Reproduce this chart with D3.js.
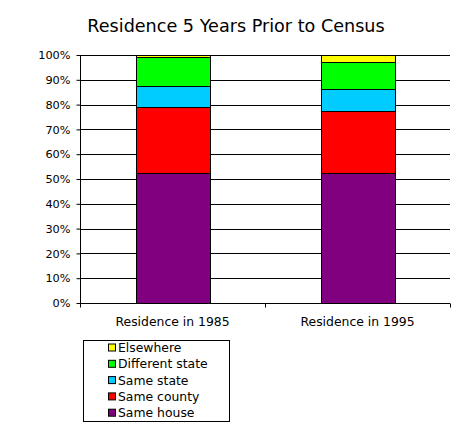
<!DOCTYPE html>
<html>
<head>
<meta charset="utf-8">
<script src="https://cdn.jsdelivr.net/npm/d3@7"></script>
<style>
  body { margin: 0; background: #fff; }
  text { font-family: Verdana, "DejaVu Sans", sans-serif; fill: #000; }
</style>
</head>
<body>
<svg id="chart"></svg>
<script>
// values, percent of population
var categories = ["Residence in 1985", "Residence in 1995"];
var seriesNames = ["Same house", "Same county", "Same state", "Different state", "Elsewhere"];
var sameHouse = [52.4, 52.4];
var sameCounty = [26.6, 25.1];
var sameState = [8.5, 8.8];
var differentState = [11.7, 10.9];
var elsewhere = [0.8, 2.8];
var colors = ["#800080", "#ff0000", "#00ccff", "#00ff00", "#ffff00"];
var yTicks = [0, 10, 20, 30, 40, 50, 60, 70, 80, 90, 100];

var W = 471, H = 427;
var margin = { top: 55, right: 21, bottom: 124, left: 80 },
  width = W - margin.left - margin.right,
  height = H - margin.top - margin.bottom;

var rows = categories.map(function(c, i) {
  return {
    cat: c,
    "Same house": sameHouse[i],
    "Same county": sameCounty[i],
    "Same state": sameState[i],
    "Different state": differentState[i],
    "Elsewhere": elsewhere[i]
  };
});

var stack = d3.stack().keys(seriesNames);
var series = stack(rows);

var x = d3.scaleBand()
  .domain(categories)
  .range([0, width])
  .paddingInner(0.6)
  .paddingOuter(0.3);
var y = d3.scaleLinear()
  .domain([0, 100])
  .range([height, 0]);
var color = d3.scaleOrdinal().domain(seriesNames).range(colors);

var svg0 = d3.select("#chart")
  .attr("width", W)
  .attr("height", H);

svg0.append("text")
  .attr("x", 236)
  .attr("y", 32)
  .attr("text-anchor", "middle")
  .style("font-size", "17.6px")
  .text("Residence 5 Years Prior to Census");

var svg = svg0.append("g")
  .attr("transform", "translate(" + margin.left + "," + margin.top + ")");

// gridlines
svg.append("g").selectAll("line")
    .data(yTicks.slice(1))
  .enter().append("line")
    .attr("x1", 0).attr("x2", width)
    .attr("y1", function(d) { return Math.round(y(d)) + 0.5; })
    .attr("y2", function(d) { return Math.round(y(d)) + 0.5; })
    .attr("stroke", "#000");

// bars
svg.append("g").selectAll("g")
    .data(series)
  .enter().append("g")
    .attr("fill", function(d) { return color(d.key); })
  .selectAll("rect")
    .data(function(d) { return d; })
  .enter().append("rect")
    .attr("x", function(d) { return Math.round(x(d.data.cat)) + 0.5; })
    .attr("y", function(d) { return Math.round(y(d[1])) + 0.5; })
    .attr("height", function(d) { return Math.round(y(d[0])) - Math.round(y(d[1])); })
    .attr("width", Math.round(x.bandwidth()))
    .attr("stroke", "#000");

// y axis
var yAxis = d3.axisLeft(y)
  .tickValues(yTicks)
  .tickFormat(function(d) { return d + "%"; })
  .tickSize(4)
  .tickPadding(6);
var gy = svg.append("g")
  .attr("transform", "translate(0.5,0)")
  .call(yAxis);
gy.select(".domain").attr("stroke", "#000").attr("d", "M0," + y(100) + "V" + y(0));
gy.selectAll(".tick line").attr("stroke", "#000");
gy.selectAll("text").style("font-size", "11.3px").attr("font-family", null);

// x axis
var gx = svg.append("g")
  .attr("transform", "translate(0," + (Math.round(height) + 0.5) + ")");
gx.append("line")
  .attr("x1", 0).attr("x2", width)
  .attr("stroke", "#000");
gx.selectAll(".sep")
    .data([0, width / 2, width])
  .enter().append("line")
    .attr("class", "sep")
    .attr("x1", function(d) { return Math.round(d) + 0.5; })
    .attr("x2", function(d) { return Math.round(d) + 0.5; })
    .attr("y1", 0).attr("y2", 4)
    .attr("stroke", "#000");
gx.selectAll(".lbl")
    .data(categories)
  .enter().append("text")
    .attr("class", "lbl")
    .attr("x", function(d) { return x(d) + x.bandwidth() / 2; })
    .attr("y", 22)
    .attr("text-anchor", "middle")
    .style("font-size", "12.4px")
    .text(function(d) { return d; });

// legend
var legend = svg0.append("g").attr("transform", "translate(83,340)");
legend.append("rect")
  .attr("x", 0.5).attr("y", 0.5)
  .attr("width", 146).attr("height", 81)
  .attr("fill", "#fff")
  .attr("stroke", "#000");
var items = legend.selectAll(".item")
    .data(seriesNames.slice().reverse())
  .enter().append("g")
    .attr("class", "item")
    .attr("transform", function(d, i) { return "translate(0," + (7.5 + i * 16.3) + ")"; });
items.append("rect")
  .attr("x", 25.5).attr("y", -3.5)
  .attr("width", 7).attr("height", 7)
  .attr("fill", function(d) { return color(d); })
  .attr("stroke", "#000");
items.append("text")
  .attr("x", 35)
  .attr("y", 4.5)
  .style("font-size", "12.4px")
  .text(function(d) { return d; });
</script>
</body>
</html>
